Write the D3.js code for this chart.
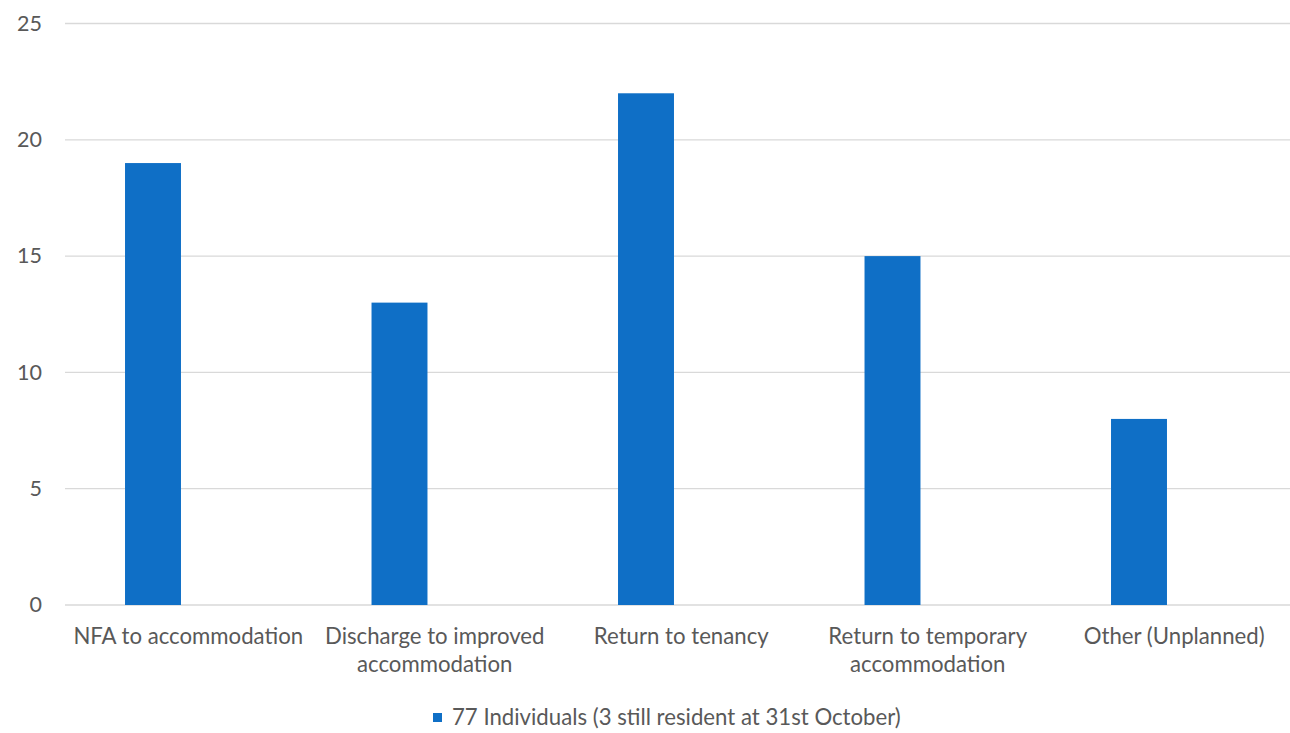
<!DOCTYPE html>
<html>
<head>
<meta charset="utf-8">
<script src="https://cdn.jsdelivr.net/npm/d3@7"></script>
<style>
  html, body { margin: 0; padding: 0; background: #fff; }
  svg { display: block; }
  text { font-family: Lato, "Open Sans", sans-serif; fill: #595959; }
</style>
</head>
<body>
<svg id="chart" width="1290" height="733"></svg>
<script>
// Outcomes for individuals leaving the service
const categories = [
  ["NFA to accommodation"],
  ["Discharge to improved", "accommodation"],
  ["Return to tenancy"],
  ["Return to temporary", "accommodation"],
  ["Other (Unplanned)"]
];
const values = [19, 13, 22, 15, 8];
const yTicks = [0, 5, 10, 15, 20, 25];
const seriesName = "77 Individuals (3 still resident at 31st October)";

const barColor = "#0f6fc6";
const gridColor = "#d9d9d9";
const tickFontSize = 21.5;
const labelFontSize = 22.2;

const svg = d3.select("#chart");
const keys = categories.map(c => c.join(" "));

// Bar positions within each category slot
const x = d3.scaleBand()
  .domain(keys)
  .range([29.75, 1262.25])
  .paddingInner(0.773)
  .paddingOuter(0.3865);

// Category slots for the labels
const xLabel = d3.scaleBand()
  .domain(keys)
  .range([65, 1297.5]);

const y = d3.scaleLinear()
  .domain([0, 25])
  .range([605, 23.5]);

const gridLeft = 65, gridRight = 1290;

// Horizontal gridlines
svg.append("g")
  .selectAll("line")
  .data(yTicks)
  .join("line")
  .attr("x1", gridLeft)
  .attr("x2", gridRight)
  .attr("y1", d => y(d))
  .attr("y2", d => y(d))
  .attr("stroke", gridColor)
  .attr("stroke-width", 1.3);

// Y axis labels
const yAxis = d3.axisLeft(y).tickValues(yTicks).tickSize(0).tickPadding(0);
const yg = svg.append("g")
  .attr("transform", "translate(42,0)")
  .call(yAxis);
yg.select(".domain").remove();
yg.selectAll("text")
  .attr("font-size", tickFontSize)
  .attr("fill", "#595959")
  .style("font-family", "Lato, sans-serif");

// Bars
svg.append("g")
  .selectAll("rect")
  .data(values)
  .join("rect")
  .attr("x", (d, i) => x(keys[i]))
  .attr("width", x.bandwidth())
  .attr("y", d => y(d))
  .attr("height", d => y(0) - y(d))
  .attr("fill", barColor);

// Category labels
const xg = svg.append("g");
categories.forEach((lines, i) => {
  const cx = xLabel(keys[i]) + xLabel.bandwidth() / 2;
  const t = xg.append("text")
    .attr("x", cx)
    .attr("y", 644)
    .attr("text-anchor", "middle")
    .attr("font-size", labelFontSize);
  lines.forEach((ln, j) => {
    t.append("tspan")
      .attr("x", cx)
      .attr("dy", j === 0 ? 0 : 28)
      .text(ln);
  });
});

// Legend
const legend = svg.append("g").attr("transform", "translate(433,713)");
legend.append("rect")
  .attr("width", 9).attr("height", 9)
  .attr("fill", barColor);
legend.append("text")
  .attr("x", 19).attr("y", 12)
  .attr("font-size", labelFontSize)
  .text(seriesName);
</script>
</body>
</html>
